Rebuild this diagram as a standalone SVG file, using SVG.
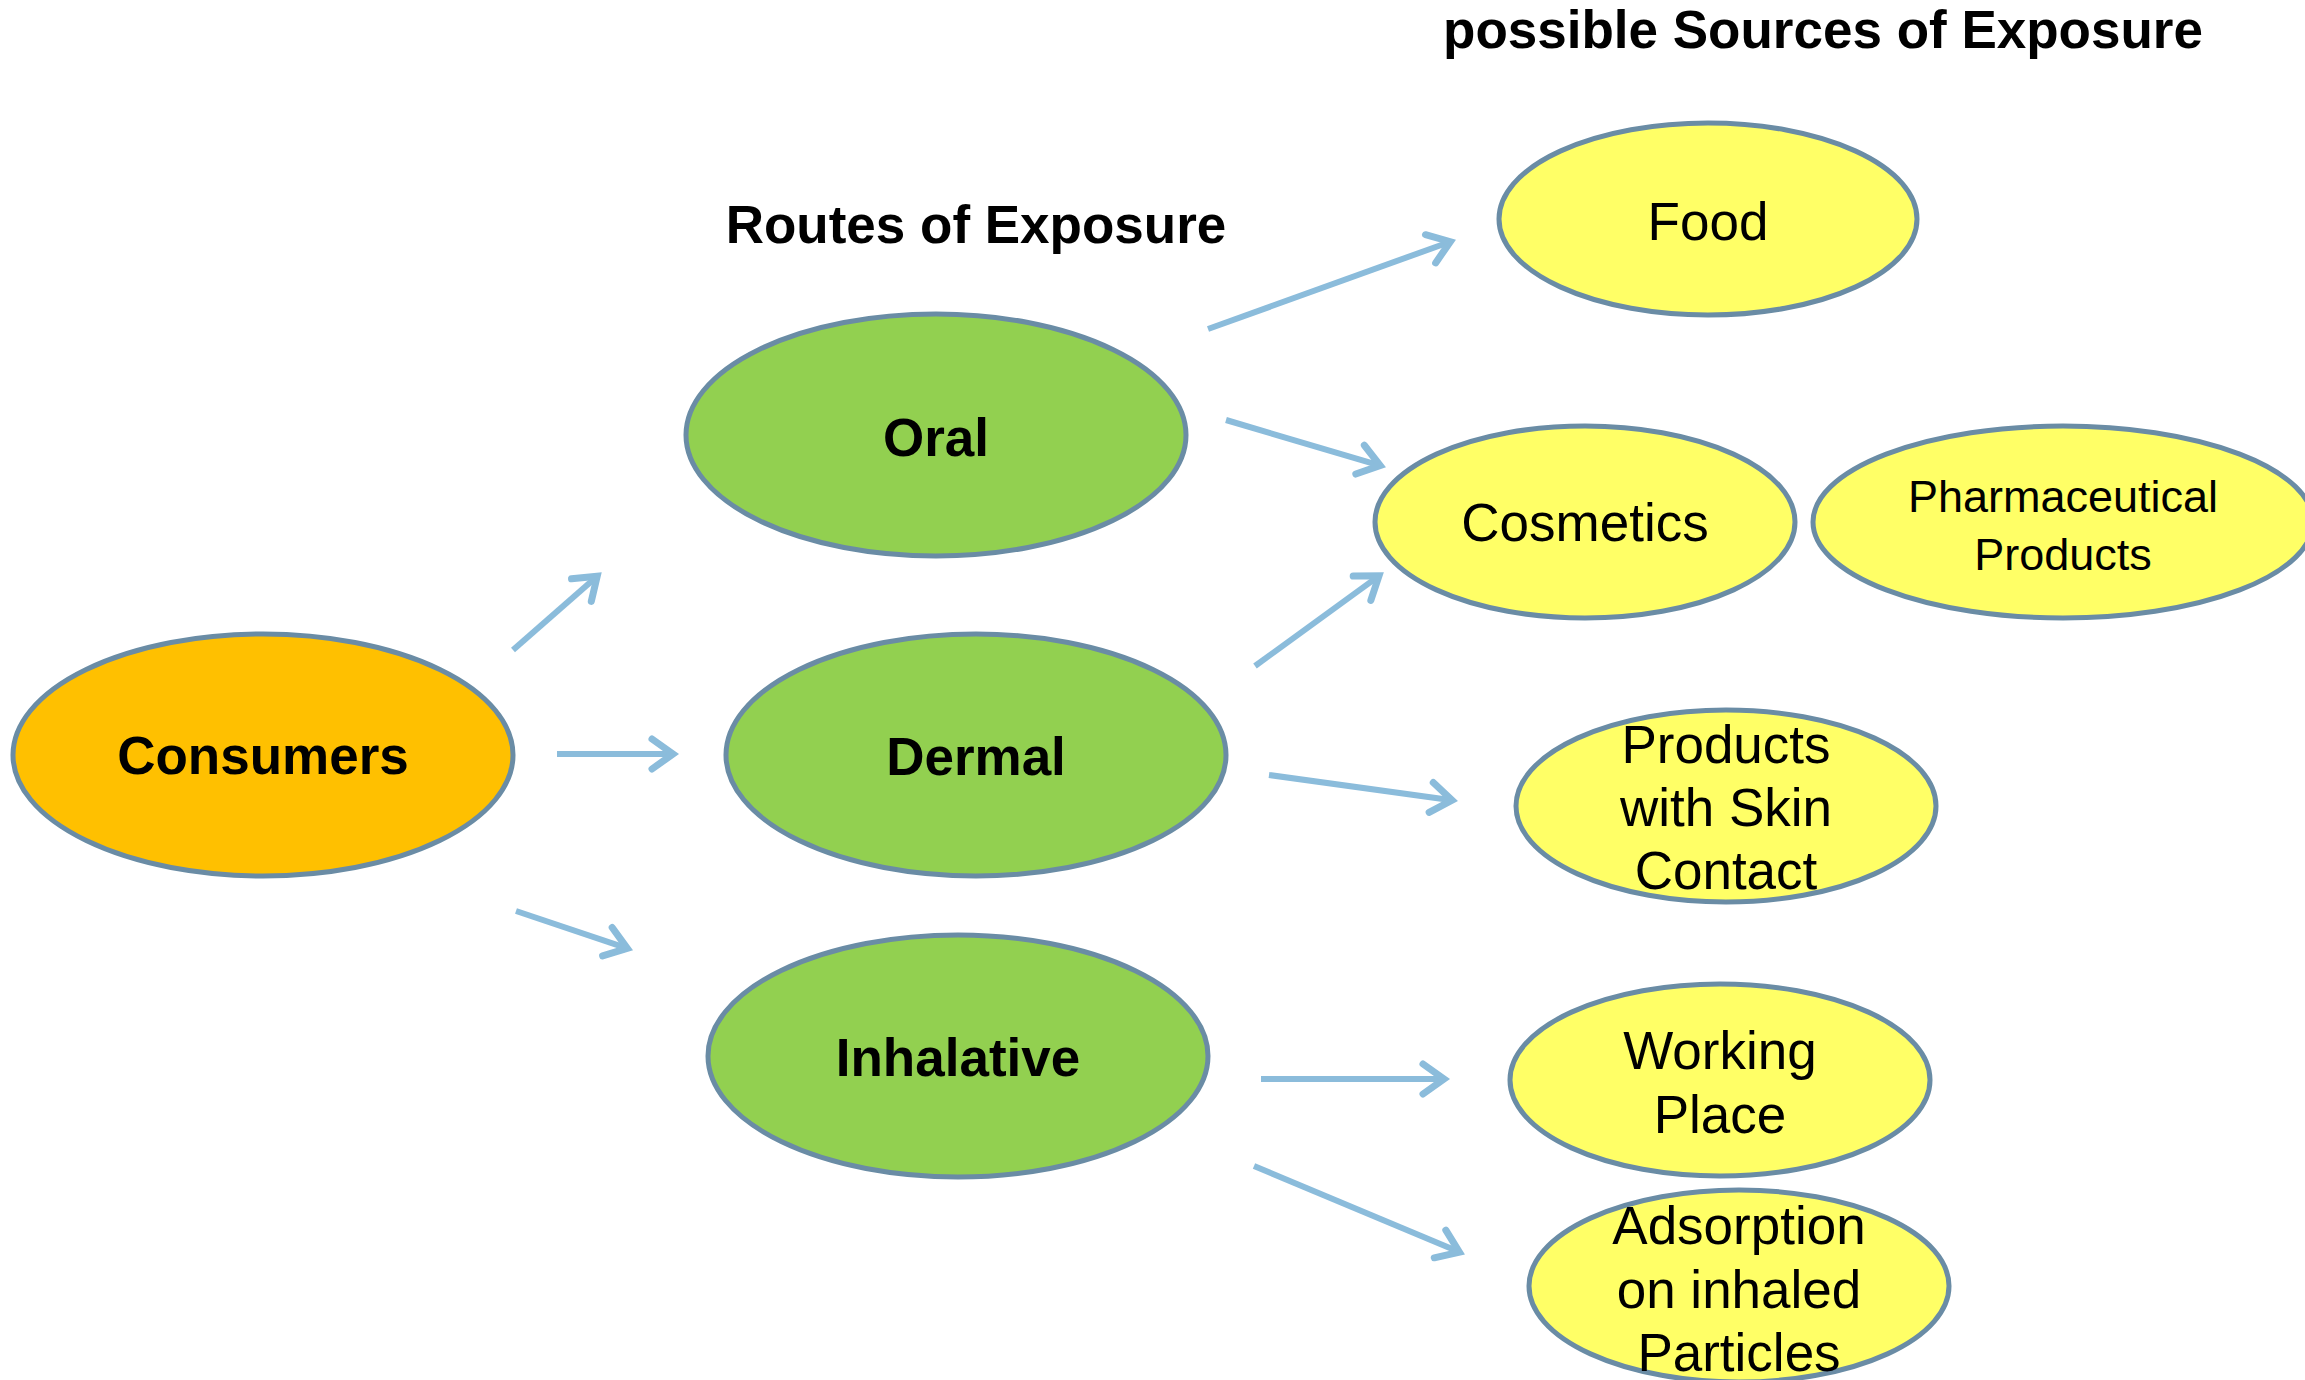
<svg xmlns="http://www.w3.org/2000/svg" width="2305" height="1380" viewBox="0 0 2305 1380">
<defs>
<style>
.node{stroke:#6A8CA5;stroke-width:5}
.c{fill:#FFC000}
.g{fill:#92D050}
.y{fill:#FFFF66}
.b{font-family:"Liberation Sans",Arial,sans-serif;font-weight:bold;font-size:53px;fill:#000;text-anchor:middle}
.r{font-family:"Liberation Sans",Arial,sans-serif;font-size:53px;fill:#000;text-anchor:middle}
.conn line{stroke:#8BBCDB;stroke-width:6;marker-end:url(#ah)}
</style>
<marker id="ah" markerUnits="userSpaceOnUse" markerWidth="60" markerHeight="60" viewBox="-30 -30 60 60" refX="0" refY="0" orient="auto" overflow="visible">
<path d="M-21,-15 L0,0 L-21,15" fill="none" stroke="#8BBCDB" stroke-width="7" stroke-linecap="round" stroke-linejoin="miter"/>
</marker>
</defs>
<rect width="2305" height="1380" fill="#fff"/>
<text class="b" x="1823" y="48">possible Sources of Exposure</text>
<text class="b" x="976" y="243">Routes of Exposure</text>
<g class="conn" id="connectors">
<line x1="513" y1="650" x2="597.2" y2="576.3"/>
<line x1="557" y1="754" x2="673" y2="754"/>
<line x1="516" y1="911" x2="627.3" y2="948.4"/>
<line x1="1208" y1="329" x2="1450.3" y2="241.7"/>
<line x1="1226" y1="420" x2="1380.2" y2="465.6"/>
<line x1="1255" y1="666" x2="1379" y2="575.9"/>
<line x1="1269" y1="775" x2="1452" y2="800.3"/>
<line x1="1261" y1="1079" x2="1444" y2="1079"/>
<line x1="1254" y1="1166" x2="1459.4" y2="1252.1"/>
</g>
<g id="consumers"><ellipse class="node c" cx="263" cy="755" rx="250" ry="121"/><text class="b" x="263" y="774">Consumers</text></g>
<g id="oral"><ellipse class="node g" cx="936" cy="435" rx="250" ry="121"/><text class="b" x="936" y="456">Oral</text></g>
<g id="dermal"><ellipse class="node g" cx="976" cy="755" rx="250" ry="121"/><text class="b" x="976" y="775">Dermal</text></g>
<g id="inhalative"><ellipse class="node g" cx="958" cy="1056" rx="250" ry="121"/><text class="b" x="958" y="1076">Inhalative</text></g>
<g id="food"><ellipse class="node y" cx="1708" cy="219" rx="209" ry="96"/><text class="r" x="1708" y="240">Food</text></g>
<g id="cosmetics"><ellipse class="node y" cx="1585" cy="522" rx="210" ry="96"/><text class="r" x="1585" y="541">Cosmetics</text></g>
<g id="pharmaceutical"><ellipse class="node y" cx="2063" cy="522" rx="250" ry="96"/><text class="r" x="2063" y="512" style="font-size:45px">Pharmaceutical</text><text class="r" x="2063" y="570" style="font-size:45px">Products</text></g>
<g id="skin"><ellipse class="node y" cx="1726" cy="806" rx="210" ry="96"/><text class="r" x="1726" y="763">Products</text><text class="r" x="1726" y="826">with Skin</text><text class="r" x="1726" y="889">Contact</text></g>
<g id="working"><ellipse class="node y" cx="1720" cy="1080" rx="210" ry="96"/><text class="r" x="1720" y="1069">Working</text><text class="r" x="1720" y="1133">Place</text></g>
<g id="adsorption"><ellipse class="node y" cx="1739" cy="1286" rx="210" ry="96"/><text class="r" x="1739" y="1244">Adsorption</text><text class="r" x="1739" y="1308">on inhaled</text><text class="r" x="1739" y="1371">Particles</text></g>
</svg>
